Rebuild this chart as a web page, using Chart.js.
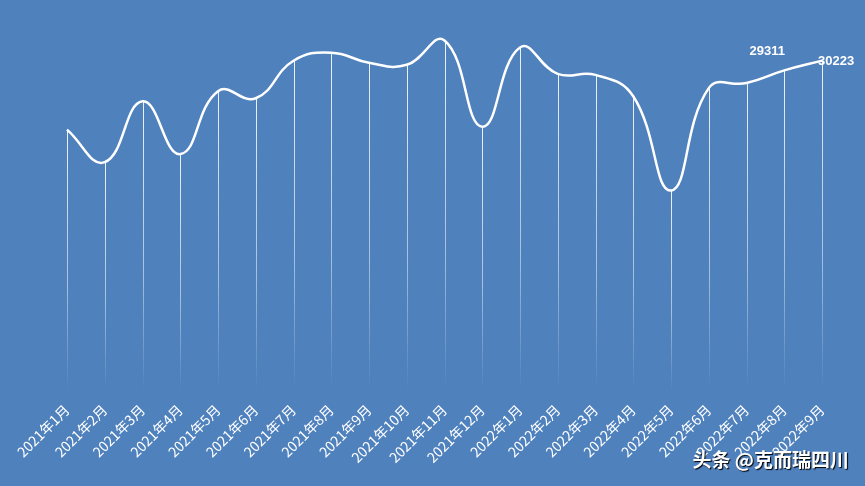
<!DOCTYPE html>
<html><head><meta charset="utf-8">
<script src="https://cdn.jsdelivr.net/npm/chart.js@4"></script>
<style>
html,body{margin:0;padding:0;background:#4f81bd;}
#wrap{position:relative;width:865px;height:486px;}
#mark{position:absolute;right:16px;bottom:14px;color:#fff;font:bold 19px "Noto Sans CJK SC";text-shadow:1px 1px 1px #000;}
</style></head><body>
<div id="wrap"><canvas id="c" width="865" height="486"></canvas><div id="mark">头条 @克而瑞四川</div></div>
<script>
const months = ["2021年1月","2021年2月","2021年3月","2021年4月","2021年5月","2021年6月","2021年7月","2021年8月","2021年9月","2021年10月","2021年11月","2021年12月","2022年1月","2022年2月","2022年3月","2022年4月","2022年5月","2022年6月","2022年7月","2022年8月","2022年9月"];
const values = [23800,20770,26430,21520,27380,26720,30210,30960,30020,29830,32100,24070,31440,28980,28890,26900,18130,27660,28130,29311,30223];
const labelled = [19, 20];

const dropLines = {
  id: "dropLines",
  beforeDatasetsDraw(chart) {
    const { ctx, chartArea } = chart;
    const meta = chart.getDatasetMeta(0);
    const bottom = chartArea.bottom + 6;
    meta.data.forEach((p) => {
      const g = ctx.createLinearGradient(0, p.y, 0, bottom);
      g.addColorStop(0, "rgba(255,255,255,0.9)");
      g.addColorStop(0.6, "rgba(255,255,255,0.5)");
      g.addColorStop(1, "rgba(255,255,255,0)");
      ctx.save();
      ctx.strokeStyle = g;
      ctx.lineWidth = 1;
      ctx.beginPath();
      ctx.moveTo(Math.round(p.x) + 0.5, p.y);
      ctx.lineTo(Math.round(p.x) + 0.5, bottom);
      ctx.stroke();
      ctx.restore();
    });
  },
  afterDatasetsDraw(chart) {
    const { ctx } = chart;
    const meta = chart.getDatasetMeta(0);
    ctx.save();
    ctx.fillStyle = "#fff";
    ctx.font = "bold 13px 'Liberation Sans', Arial";
    labelled.forEach((i) => {
      const p = meta.data[i];
      if (i === 20) { ctx.textAlign = "left"; ctx.fillText(values[i], p.x - 4, p.y + 4); }
      else { ctx.textAlign = "center"; ctx.fillText(values[i], p.x - 17, p.y - 15); }
    });
    ctx.restore();
  },
};

new Chart(document.getElementById("c"), {
  type: "line",
  data: {
    labels: months,
    datasets: [{ data: values, borderColor: "#fff", borderWidth: 2.5, pointRadius: 0, tension: 0.45, fill: false }],
  },
  options: {
    responsive: false,
    animation: false,
    layout: { padding: { left: 0, right: 0, top: 20, bottom: 12 } },
    plugins: { legend: { display: false }, tooltip: { enabled: false } },
    scales: {
      x: {
        offset: false,
        grid: { display: false },
        border: { display: false },
        afterFit(s) { s.paddingLeft = 67; s.paddingRight = 43; },
        ticks: { color: "#fff", font: { size: 14, family: "'Noto Sans CJK SC'" }, maxRotation: 45, minRotation: 45, autoSkip: false, padding: 8 },
      },
      y: { display: false, min: 0, max: 34000 },
    },
  },
  plugins: [dropLines],
});
</script>
</body></html>
